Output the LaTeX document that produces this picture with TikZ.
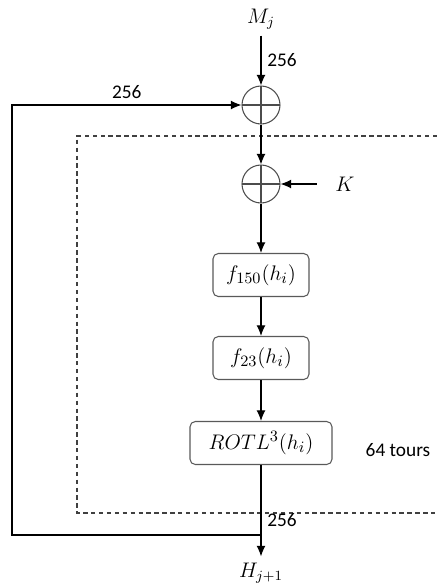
\documentclass[tikz,border=0pt]{standalone}
\usepackage{fontspec}
\setmainfont{Carlito}
\usetikzlibrary{arrows.meta}
\begin{document}
\begin{tikzpicture}[
        x=0.02cm, y=-0.02cm,
        font=\fontsize{11}{13}\selectfont,
        line width=0.6pt,
        fleche/.style={-{Latex[length=6pt,width=5pt]}},
        xor/.style={draw=black!70, circle, minimum size=0.76cm, inner sep=0pt,
            path picture={
                \draw[black!70] (path picture bounding box.west) -- (path picture bounding box.east);
                \draw[black!70] (path picture bounding box.north) -- (path picture bounding box.south);}},
        boite/.style={draw=black!65, rounded corners=3pt, minimum width=1.92cm, minimum height=0.86cm, inner sep=2pt, font=\fontsize{12.5}{14}\selectfont},
        maths/.style={font=\fontsize{12}{14}\selectfont}]
        \useasboundingbox (0,0) rectangle (437,583);
        % entree et sortie
        \node[maths] (mj) at (261,19) {$M_j$};
        \node[maths] (h) at (261,573) {$H_{j+1}$};
        % tour de compression
        \node[xor] (x1) at (261,105) {};
        \node[xor] (x2) at (261,184) {};
        \node[maths] (k) at (345,184) {$K$};
        \node[boite] (f1) at (261,275) {$f_{150}(h_i)$};
        \node[boite] (f2) at (261,358) {$f_{23}(h_i)$};
        \node[boite, minimum width=2.84cm] (rotl) at (261,443) {$ROTL^3(h_i)$};
        \node (tours) at (398,450) {64 tours};
        % cadre de la boucle
        \coordinate (c1) at (437,136);
        \coordinate (c2) at (77,513);
        \coordinate (c3) at (437,513);
        \draw[dashed, dash pattern=on 2.5pt off 2pt, black!75] (c1) -| (c2) -- (c3);
        % retour
        \coordinate (r1) at (12,105);
        \coordinate (r2) at (12,535);
        \coordinate (s) at (261,535);
        \draw[fleche] (mj) -- (x1) node[midway, right] {256};
        \draw[fleche] (x1) -- (x2);
        \draw[fleche] ([xshift=-0.25cm]k.west) -- (x2);
        \draw[fleche] (x2) -- (f1);
        \draw[fleche] (f1) -- (f2);
        \draw[fleche] (f2) -- (rotl);
        \draw[fleche] (rotl) -- (h) node[pos=0.6, right] {256};
        \draw[fleche] (s) -- (r2) -- (r1) -- (x1) node[midway, above] {256};
    \end{tikzpicture}
\end{document}
